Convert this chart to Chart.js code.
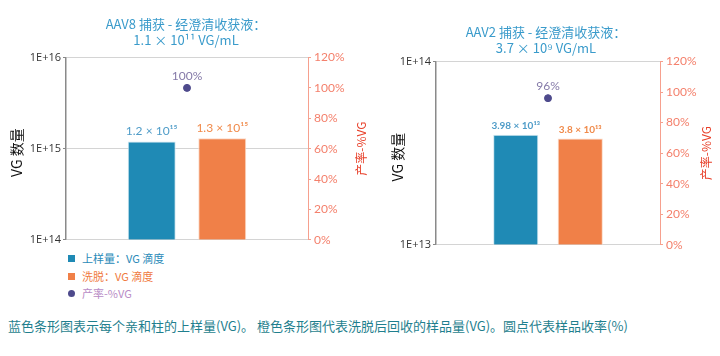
<!DOCTYPE html>
<html><head><meta charset="utf-8">
<script src="https://cdn.jsdelivr.net/npm/chart.js@4"></script>
<style>
html,body{margin:0;padding:0;background:#fff;width:720px;height:356px;overflow:hidden;font-family:"Noto Sans CJK SC",sans-serif}
.c{position:absolute;top:0}
#legend{position:absolute;left:68px;top:250px;font-size:11px;line-height:17.5px}
#legend div{display:flex;align-items:center;height:17.5px}
#legend span.sw{display:inline-block;width:7px;height:7px;margin-right:7px}
#legend span.dot{display:inline-block;width:7px;height:7px;border-radius:50%;margin-right:7px}
#caption{position:absolute;left:8px;top:316px;font-size:13px;color:#1f7f8e;white-space:nowrap}
</style></head>
<body>
<div class="c" style="left:0;width:372px;height:250px"><canvas id="c1" width="372" height="250"></canvas></div>
<div class="c" style="left:372px;width:348px;height:255px"><canvas id="c2" width="348" height="255"></canvas></div>
<div id="legend">
  <div style="color:#2a8ab8"><span class="sw" style="background:#1f8ab5"></span>上样量：VG 滴度</div>
  <div style="color:#f07a3e"><span class="sw" style="background:#f08048"></span>洗脱：VG 滴度</div>
  <div style="color:#b98cc6"><span class="dot" style="background:#4e4a8c"></span>产率-%VG</div>
</div>
<div id="caption">蓝色条形图表示每个亲和柱的上样量(VG)。 橙色条形图代表洗脱后回收的样品量(VG)。圆点代表样品收率(%)</div>
<script>
// ---- data ----
const categories = [''];
const aav8Title = ['AAV8 捕获 - 经澄清收获液：', '1.1 × 10¹¹ VG/mL'];
const aav8Load = [1.2e15];
const aav8Elute = [1.3e15];
const aav8Yield = [100];
const aav8BarLabels = ['1.2 × 10¹⁵', '1.3 × 10¹⁵'];
const aav8LogTicks = [1e14, 1e15, 1e16];

const aav2Title = ['AAV2 捕获 - 经澄清收获液：', '3.7 × 10⁹ VG/mL'];
const aav2Load = [3.98e13];
const aav2Elute = [3.8e13];
const aav2Yield = [96];
const aav2BarLabels = ['3.98 × 10¹³', '3.8 × 10¹³'];
const aav2LogTicks = [1e13, 1e14];

const pctTicks = [0, 20, 40, 60, 80, 100, 120];

const BLUE = '#1f8ab5', ORANGE = '#f08048', DOT = '#4e4a8c', SALMON = '#f4806c';

function fmtE(v){ const e = Math.round(Math.log10(v)); return '1E+' + e; }

function makeChart(id, cfg){
  const labelPlugin = {
    id: 'labels_' + id,
    afterDatasetsDraw(chart){
      const ctx = chart.ctx;
      ctx.save();
      ctx.textAlign = 'center';
      ctx.textBaseline = 'alphabetic';
      [0,1].forEach(di => {
        const el = chart.getDatasetMeta(di).data[0];
        ctx.fillStyle = di === 0 ? '#4f9cc8' : '#f08a4a';
        ctx.font = cfg.barFont;
        ctx.fillText(cfg.barLabels[di], el.x, el.y - cfg.barLabelGap);
      });
      const p = chart.getDatasetMeta(2).data[0];
      ctx.fillStyle = '#857aa8';
      ctx.font = '12px Lato, "Noto Sans", sans-serif';
      ctx.fillText(cfg.yieldVals[0] + '%', p.x, p.y - 8);
      // axis titles
      const a = chart.chartArea;
      const midY = (a.top + a.bottom) / 2;
      ctx.save();
      ctx.translate(a.left - cfg.leftTitleOff, midY + 4);
      ctx.rotate(-Math.PI/2);
      ctx.fillStyle = '#111';
      ctx.font = '14px "Noto Sans CJK SC", sans-serif';
      ctx.textBaseline = 'middle';
      ctx.fillText('VG 数量', 0, 0);
      ctx.restore();
      ctx.save();
      ctx.translate(a.right + cfg.rightTitleOff, midY);
      ctx.rotate(-Math.PI/2);
      ctx.fillStyle = '#e8402a';
      ctx.font = '12px "Noto Sans CJK SC", serif';
      ctx.textBaseline = 'middle';
      ctx.fillText('产率-%VG', 0, 0);
      ctx.restore();
      ctx.restore();
    }
  };
  return new Chart(document.getElementById(id), {
    data: {
      labels: categories,
      datasets: [
        {type:'bar', data: cfg.load, backgroundColor: BLUE, borderColor:'#cfe6f0', borderWidth:1, barPercentage: cfg.barPct, categoryPercentage: cfg.catPct, yAxisID:'y', order:2},
        {type:'bar', data: cfg.elute, backgroundColor: ORANGE, borderColor:'#fbd9c6', borderWidth:1, barPercentage: cfg.barPct, categoryPercentage: cfg.catPct, yAxisID:'y', order:2},
        {type:'line', data: cfg.yieldVals, showLine:false, pointRadius:3.5, pointBackgroundColor: DOT, pointBorderColor: DOT, yAxisID:'y1', order:1}
      ]
    },
    options: {
      responsive:false, animation:false, devicePixelRatio:1,
      layout:{padding:{top:0,bottom:cfg.padBottom,left:0,right:0}},
      plugins:{
        legend:{display:false}, tooltip:{enabled:false},
        title:{display:true, text: cfg.title, color:'#3a9bcb', font:{size:13, family:'"Noto Sans CJK SC", sans-serif', weight:'normal', lineHeight:1.25}, padding:{top:cfg.titleTop, bottom:cfg.titleBottom}}
      },
      scales:{
        x:{display:false, offset:true},
        y:{type:'logarithmic', position:'left', min: cfg.logTicks[0], max: cfg.logTicks[cfg.logTicks.length-1],
           afterBuildTicks(s){ s.ticks = cfg.logTicks.map(v=>({value:v})); },
           afterFit(s){ s.width = cfg.leftW; },
           ticks:{callback:v=>fmtE(v), color:'#333', font:{size:11, family:'"Open Sans", sans-serif'}, padding:2, autoSkip:false},
           grid:{color:'#d4d4d4', tickColor:'#888', tickLength:3, lineWidth:1},
           border:{color:'#8a8a8a', width:1.5}
        },
        y1:{type:'linear', position:'right', min:0, max:120,
           afterBuildTicks(s){ s.ticks = pctTicks.map(v=>({value:v})); },
           afterFit(s){ s.width = cfg.rightW; },
           ticks:{callback:v=>v+'%', color: SALMON, font:{size:12, family:'Lato, sans-serif'}, padding:3},
           grid:{drawOnChartArea:false, tickColor:'#f6a08e', tickLength:3},
           border:{color:'#f6a08e', width:1}
        }
      }
    },
    plugins:[labelPlugin]
  });
}

makeChart('c1', {title: aav8Title, load: aav8Load, elute: aav8Elute, yieldVals: aav8Yield, barLabels: aav8BarLabels, logTicks: aav8LogTicks,
  barPct:0.68, catPct:0.583, leftW:66, rightW:64, titleTop:16, titleBottom:9, padBottom:10,
  barFont:'12px Lato, "Noto Sans", sans-serif', barLabelGap:6, leftTitleOff:49, rightTitleOff:53});
makeChart('c2', {title: aav2Title, load: aav2Load, elute: aav2Elute, yieldVals: aav2Yield, barLabels: aav2BarLabels, logTicks: aav2LogTicks,
  barPct:0.70, catPct:0.576, leftW:64, rightW:60, titleTop:24, titleBottom:5, padBottom:10,
  barFont:'bold 10px Lato, "Noto Sans", sans-serif', barLabelGap:6, leftTitleOff:38, rightTitleOff:46});
</script>
</body></html>
